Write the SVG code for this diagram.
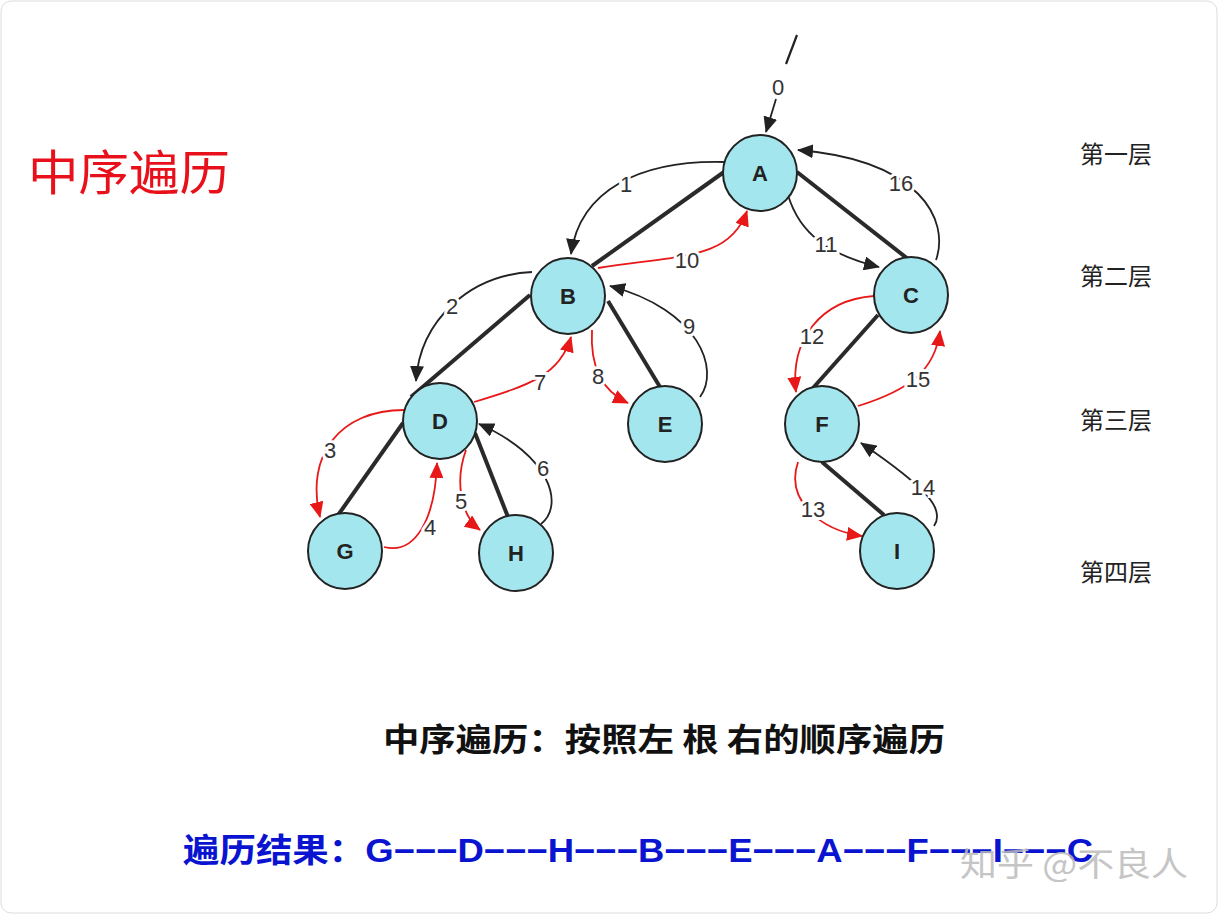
<svg xmlns="http://www.w3.org/2000/svg" width="1218" height="914" viewBox="0 0 1218 914">
<style>
.n ellipse{fill:#a4e6ee;stroke:#222;stroke-width:2}
.n text{font-family:"Liberation Sans",Arial,sans-serif;font-weight:bold;font-size:22px;fill:#222;text-anchor:middle}
.t{stroke:#2a2a2a;stroke-width:4;fill:none}
.b{stroke:#222;stroke-width:1.8;fill:none;marker-end:url(#mb)}
.r{stroke:#e81818;stroke-width:1.8;fill:none;marker-end:url(#mr)}
.l{font-family:"Liberation Sans",Arial,sans-serif;font-size:22px;fill:#333;text-anchor:middle;stroke:#fff;stroke-width:6;paint-order:stroke}
.cj{font-family:"Noto Sans CJK SC",sans-serif}
</style>
<defs>
<marker id="mb" markerWidth="16" markerHeight="14" refX="15" refY="7" orient="auto" markerUnits="userSpaceOnUse"><path d="M0,0 L16,7 L0,14 z" fill="#222"/></marker>
<marker id="mr" markerWidth="16" markerHeight="14" refX="15" refY="7" orient="auto" markerUnits="userSpaceOnUse"><path d="M0,0 L16,7 L0,14 z" fill="#e81818"/></marker>
</defs>
<rect x="1" y="1" width="1216" height="912" rx="10" fill="#fff" stroke="#ddd"/>
<text x="28" y="190" class="cj" font-size="48" fill="#e8101a" textLength="202" lengthAdjust="spacingAndGlyphs">中序遍历</text>
<g class="cj" font-size="24" fill="#222">
<text x="1080" y="163">第一层</text><text x="1080" y="285">第二层</text><text x="1080" y="429">第三层</text><text x="1080" y="581">第四层</text>
</g>
<g id="edges">
<line class="t" x1="724" y1="172" x2="592" y2="266"/>
<line class="t" x1="797" y1="172" x2="908" y2="259"/>
<line class="t" x1="530" y1="295" x2="411" y2="397"/>
<line class="t" x1="608" y1="301" x2="660" y2="387"/>
<line class="t" x1="878" y1="315" x2="813" y2="388"/>
<line class="t" x1="403" y1="423" x2="336" y2="518"/>
<line class="t" x1="475" y1="433" x2="508" y2="517"/>
<line class="t" x1="822" y1="462" x2="884" y2="515"/>
<path d="M797,35 L786,64" stroke="#222" stroke-width="2.2"/>
<path class="b" d="M776,99 L766,132"/>
<path class="b" d="M724,162 C640,160 580,190 571,254"/>
<path class="b" d="M532,272 C470,275 420,320 416,381"/>
<path class="r" d="M404,410 C340,410 305,455 320,517"/>
<path class="r" d="M384,547 C415,555 435,520 437,463"/>
<path class="r" d="M466,450 C455,480 460,515 480,530"/>
<path class="b" d="M541,524 C565,505 550,455 479,424"/>
<path class="r" d="M474,402 C530,385 560,375 571,337"/>
<path class="r" d="M592,330 C590,365 600,390 628,403"/>
<path class="b" d="M700,397 C720,370 700,310 610,286"/>
<path class="r" d="M598,268 C680,255 730,260 747,211"/>
<path class="b" d="M788,195 C800,235 830,255 879,267"/>
<path class="r" d="M874,296 C820,300 790,340 796,392"/>
<path class="r" d="M798,462 C785,500 820,530 862,536"/>
<path class="b" d="M934,526 C945,510 930,490 861,443"/>
<path class="r" d="M858,406 C910,390 935,370 940,331"/>
<path class="b" d="M936,260 C950,220 920,160 798,150"/>
<g class="l">
<text x="778" y="95">0</text><text x="626" y="192">1</text><text x="452" y="314">2</text><text x="330" y="458">3</text><text x="430" y="535">4</text><text x="461" y="509">5</text><text x="543" y="476">6</text><text x="540" y="390">7</text><text x="598" y="384">8</text><text x="689" y="334">9</text><text x="687" y="268">10</text><text x="826" y="252">11</text><text x="812" y="344">12</text><text x="813" y="517">13</text><text x="923" y="495">14</text><text x="918" y="387">15</text><text x="901" y="191">16</text>
</g>
</g>
<g id="A" class="n"><ellipse cx="760" cy="173" rx="37" ry="38"/><text x="760" y="181">A</text></g>
<g id="B" class="n"><ellipse cx="568" cy="296" rx="37" ry="38"/><text x="568" y="304">B</text></g>
<g id="C" class="n"><ellipse cx="911" cy="295" rx="37" ry="38"/><text x="911" y="303">C</text></g>
<g id="D" class="n"><ellipse cx="440" cy="421" rx="37" ry="38"/><text x="440" y="429">D</text></g>
<g id="E" class="n"><ellipse cx="665" cy="424" rx="37" ry="38"/><text x="665" y="432">E</text></g>
<g id="F" class="n"><ellipse cx="822" cy="424" rx="37" ry="38"/><text x="822" y="432">F</text></g>
<g id="G" class="n"><ellipse cx="345" cy="551" rx="37" ry="38"/><text x="345" y="559">G</text></g>
<g id="H" class="n"><ellipse cx="516" cy="553" rx="37" ry="38"/><text x="516" y="561">H</text></g>
<g id="I" class="n"><ellipse cx="897" cy="551" rx="37" ry="38"/><text x="897" y="559">I</text></g>
<text x="383" y="751" class="cj" font-size="32" font-weight="bold" fill="#111" textLength="562" lengthAdjust="spacingAndGlyphs">中序遍历：按照左 根 右的顺序遍历</text>
<text x="183" y="862" font-family="Liberation Sans,Noto Sans CJK SC,sans-serif" font-size="33" font-weight="bold" fill="#0a14d0" textLength="910" lengthAdjust="spacingAndGlyphs">遍历结果：G−−−D−−−H−−−B−−−E−−−A−−−F−−−I−−−C</text>
<text x="960" y="876" class="cj" font-size="33" fill="#bbb" opacity="0.85" textLength="228" lengthAdjust="spacingAndGlyphs">知乎 @不良人</text>
</svg>
